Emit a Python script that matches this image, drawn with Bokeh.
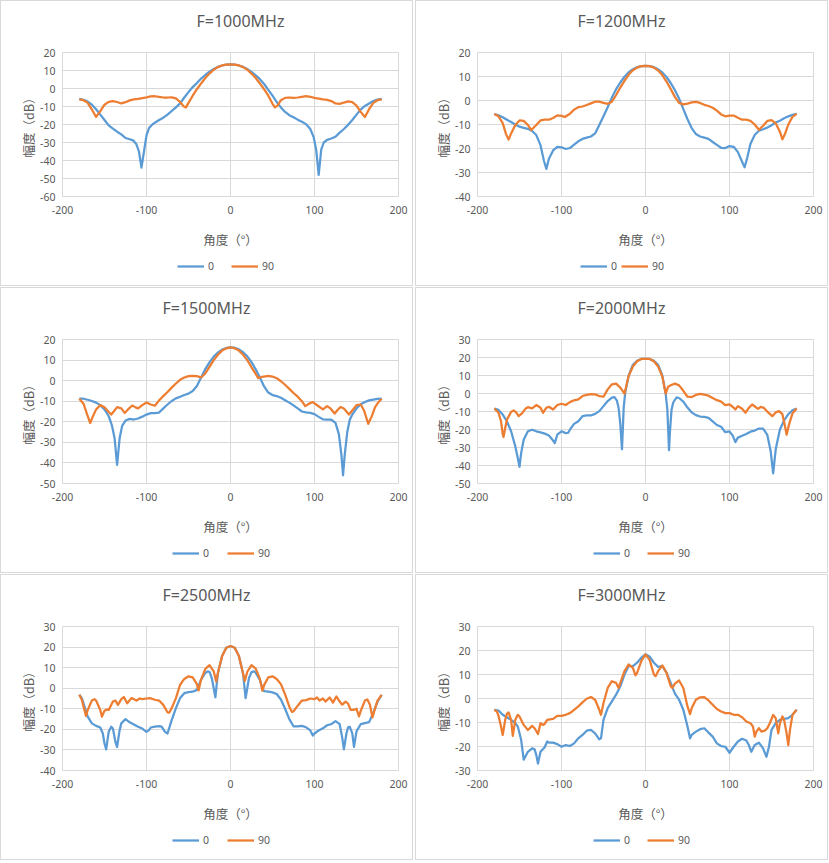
from bokeh.plotting import figure
from bokeh.models import Range1d, FixedTicker, Legend, LegendItem, Title, PrintfTickFormatter
from bokeh.layouts import row, column
from bokeh.embed import file_html
from bokeh.resources import INLINE

BLUE = "#5B9BD5"
ORANGE = "#ED7D31"
TXT = "#595959"
GRID = "#D9D9D9"

X_TICKS = [-200, -100, 0, 100, 200]
SERIES_NAMES = ["0", "90"]
TITLES = ["F=1000MHz", "F=1200MHz", "F=1500MHz", "F=2000MHz", "F=2500MHz", "F=3000MHz"]
Y_RANGES = [(-60, 20), (-40, 20), (-50, 20), (-50, 30), (-40, 30), (-30, 30)]
X_TITLE = "角度（°）"
Y_TITLE = "幅度（dB）"

# (angle, dB) pairs
s0_1000 = [(-180,-5.8),(-175,-6.3),(-170,-7.3),(-165,-9),(-160,-11.5),(-155,-14.5),(-150,-17.5),(-145,-20.5),(-140,-22.3),(-135,-24),(-130,-25.5),(-125,-27.5),(-120,-28.2),(-116,-28.8),(-112,-31),(-109,-35),(-106,-44),(-103,-35),(-100,-26),(-97,-22),(-93,-20),(-90,-19),(-85,-17.5),(-80,-16.2),(-75,-14.5),(-70,-12.5),(-65,-10.5),(-60,-8.3),(-55,-5),(-50,-2),(-45,0.8),(-40,3),(-35,5.5),(-30,7.5),(-25,9.3),(-20,10.8),(-15,12),(-10,12.8),(-5,13.3),(0,13.4),(5,13.3),(10,12.8),(15,12),(20,10.8),(25,9.2),(30,7.3),(35,5.2),(40,2.5),(45,-0.8),(50,-4),(55,-7.5),(60,-10.5),(65,-13),(70,-14.8),(75,-16),(80,-17.3),(85,-18.5),(90,-19.8),(95,-22.5),(99,-27),(102,-34),(105,-48),(108,-34),(111,-30),(115,-28.5),(120,-27.8),(125,-26.8),(130,-24.5),(135,-22.5),(140,-20.2),(145,-17.5),(150,-14.5),(155,-11.7),(160,-9.7),(165,-8.3),(170,-7),(175,-6.2),(180,-5.8)]
s90_1000 = [(-180,-6),(-175,-6.5),(-170,-8),(-165,-11.7),(-160,-15.8),(-155,-12.6),(-150,-9),(-145,-7.4),(-140,-7),(-135,-7.5),(-130,-8.3),(-125,-7.6),(-120,-6.6),(-115,-6),(-110,-5.8),(-105,-5.3),(-100,-4.9),(-95,-4.4),(-90,-4.3),(-85,-4.7),(-80,-5),(-75,-5),(-70,-4.9),(-65,-5.5),(-60,-7.5),(-56,-9.8),(-53,-10.5),(-50,-8),(-45,-4),(-40,-0.4),(-35,2.8),(-30,5.8),(-25,8.3),(-20,10.4),(-15,11.9),(-10,12.8),(-5,13.3),(0,13.4),(5,13.3),(10,12.8),(15,11.9),(20,10.4),(25,8.3),(30,5.8),(35,2.8),(40,-0.4),(45,-4),(50,-8.5),(53,-10.5),(56,-9.5),(60,-6.5),(65,-5.2),(70,-5),(75,-5.2),(80,-5),(85,-4.6),(90,-4.3),(95,-4.6),(100,-5.2),(105,-5.6),(110,-6),(115,-6.3),(120,-7),(125,-8.3),(130,-8.5),(135,-7.8),(140,-7.2),(145,-7.6),(150,-9.5),(155,-13),(160,-15.8),(165,-11.5),(170,-8),(175,-6.5),(180,-6)]

s0_1200 = [(-180,-5.6),(-175,-6.2),(-170,-7),(-165,-8),(-160,-9),(-155,-10),(-150,-10.9),(-145,-11.4),(-140,-11.8),(-135,-12.7),(-130,-14.4),(-125,-18.6),(-121,-25),(-118,-28.5),(-115,-24.3),(-110,-20.8),(-105,-19.3),(-100,-19.5),(-95,-20.2),(-90,-19.8),(-85,-18.4),(-80,-17),(-75,-16),(-70,-15.5),(-65,-15),(-60,-13.7),(-55,-10.2),(-50,-6.6),(-45,-2.8),(-40,1.2),(-35,4.7),(-30,7.5),(-25,9.9),(-20,11.8),(-15,13),(-10,13.9),(-5,14.3),(0,14.4),(5,14.3),(10,13.9),(15,13),(20,11.7),(25,9.8),(30,7.3),(35,4.3),(40,0.8),(45,-3.5),(50,-7.8),(55,-11.5),(60,-14),(65,-15),(70,-15.5),(75,-16),(80,-17.3),(85,-18.5),(90,-19.7),(95,-19.8),(100,-19),(105,-19.3),(110,-21.5),(115,-25.5),(118,-27.8),(121,-24),(125,-18),(130,-14.4),(135,-12.6),(140,-12),(145,-11.3),(150,-10.3),(155,-9.2),(160,-8.4),(165,-7.4),(170,-6.6),(175,-6),(180,-5.6)]
s90_1200 = [(-180,-5.6),(-175,-6.6),(-170,-9.4),(-166,-14),(-163,-16.3),(-160,-13.7),(-155,-10.2),(-150,-8.3),(-145,-8.5),(-140,-10.2),(-136,-12.3),(-130,-10.2),(-125,-8.3),(-120,-8),(-115,-8),(-110,-7.3),(-105,-6.2),(-100,-6.4),(-96,-6.9),(-90,-5.5),(-85,-3.8),(-80,-2.8),(-75,-2.5),(-70,-1.9),(-65,-1.2),(-60,-0.5),(-55,-0.5),(-50,-1),(-45,-1.4),(-40,-0.5),(-35,2.3),(-30,5.4),(-25,8.2),(-20,10.8),(-15,12.6),(-10,13.7),(-5,14.3),(0,14.4),(5,14.3),(10,13.7),(15,12.5),(20,10.6),(25,7.9),(30,4.8),(35,1.5),(40,-1),(45,-1.6),(50,-1.3),(55,-0.8),(60,-0.6),(65,-1),(70,-1.8),(75,-2.3),(80,-3),(85,-4.2),(90,-5.8),(95,-6.6),(100,-6.3),(105,-6.3),(110,-7.2),(115,-8),(120,-8),(125,-8.5),(130,-10),(135,-12.2),(140,-10.5),(145,-8.5),(150,-8.2),(155,-9.5),(160,-13),(163,-16.2),(166,-14),(170,-10),(175,-6.8),(180,-5.6)]

s0_1500 = [(-180,-8.8),(-175,-8.8),(-170,-9.3),(-165,-9.9),(-160,-10.7),(-155,-11.9),(-150,-14),(-145,-17.3),(-141,-22),(-138,-28),(-135,-41),(-132,-28),(-129,-22),(-125,-19.4),(-120,-18.6),(-115,-18.9),(-110,-18.4),(-105,-17.5),(-100,-16.5),(-95,-15.8),(-90,-15.8),(-85,-15.5),(-80,-13.5),(-75,-11.6),(-70,-9.9),(-65,-8.6),(-60,-7.8),(-55,-7),(-50,-6.3),(-45,-5),(-40,-2.6),(-35,1.5),(-30,5.6),(-25,8.9),(-20,11.7),(-15,13.6),(-10,15.1),(-5,15.9),(0,16.2),(5,16),(10,15.2),(15,13.8),(20,11.8),(25,9),(30,5.5),(35,1.5),(40,-2.8),(45,-5.8),(50,-7),(55,-7.5),(60,-8.3),(65,-9.5),(70,-10.7),(75,-12),(80,-13.5),(85,-15),(90,-15.4),(95,-15.7),(100,-16.3),(105,-17.6),(110,-18.8),(115,-19),(120,-19),(125,-20.5),(129,-26),(132,-36),(134,-46),(136,-36),(139,-25),(142,-19),(145,-16.5),(150,-13.5),(155,-11.5),(160,-10.4),(165,-9.6),(170,-9.2),(175,-8.9),(180,-8.8)]
s90_1500 = [(-180,-8.8),(-175,-11.2),(-171,-16),(-167,-20.6),(-164,-17.5),(-160,-14),(-155,-11.9),(-150,-12.9),(-145,-15.2),(-142,-16.5),(-139,-15),(-135,-12.9),(-130,-13.5),(-126,-15.7),(-122,-14),(-117,-12.1),(-113,-13),(-110,-13.5),(-105,-11.9),(-100,-10.6),(-95,-11.6),(-90,-12.2),(-85,-9.6),(-80,-7.5),(-75,-5.5),(-70,-3.4),(-65,-1.4),(-60,0.4),(-55,1.5),(-50,2.2),(-45,2.3),(-40,2.2),(-35,1.5),(-30,3.5),(-25,6.7),(-20,10),(-15,12.6),(-10,14.6),(-5,15.7),(0,16.2),(5,15.7),(10,14.6),(15,12.6),(20,10),(25,6.5),(30,3.3),(33,1.2),(37,1.8),(40,2),(45,2.3),(50,2),(55,1.2),(60,-0.3),(65,-2),(70,-4),(75,-6),(80,-7.8),(85,-10),(89,-12.4),(93,-11.3),(98,-10.4),(104,-12.2),(110,-14),(115,-12.4),(119,-13.5),(124,-16),(128,-14),(131,-12.8),(135,-13.5),(141,-16.5),(145,-14.5),(150,-11.9),(155,-11.6),(159,-14.5),(164,-21),(168,-17.5),(172,-13),(176,-10.5),(180,-8.8)]

s0_2000 = [(-180,-8.3),(-175,-9.1),(-170,-11.7),(-165,-15.4),(-160,-21),(-155,-29.4),(-152,-36),(-150,-40.7),(-148,-33),(-145,-25.7),(-140,-21),(-135,-20.1),(-130,-21),(-125,-21.6),(-120,-22.3),(-115,-23.3),(-111,-25.5),(-108,-27.6),(-105,-22.9),(-100,-21),(-95,-22),(-92,-21.8),(-90,-20.1),(-85,-16.9),(-80,-15.4),(-75,-12.6),(-70,-12.2),(-65,-12.2),(-60,-11.3),(-55,-9.8),(-50,-7),(-45,-4.2),(-40,-2.3),(-37,-2),(-34,-4),(-32,-8),(-30,-17),(-28,-31),(-27,-20),(-26,-8),(-24,1),(-22,5.5),(-20,10),(-15,16),(-10,18.2),(-5,19.2),(0,19.3),(5,19.2),(10,18.2),(15,16),(20,10),(22,5),(24,0),(26,-9),(27,-20),(28,-31.5),(29,-22),(31,-9),(33,-5),(37,-2.2),(40,-2.5),(45,-4.5),(50,-7.8),(55,-10.5),(60,-12),(65,-12.8),(70,-13),(75,-13.5),(80,-15.5),(85,-17.5),(90,-18.5),(95,-21.5),(100,-21),(104,-23.5),(107,-27),(110,-24.5),(115,-23.5),(120,-22.5),(125,-21.2),(130,-20.6),(135,-19.5),(140,-19.5),(145,-23),(149,-32),(152,-44.4),(155,-31),(160,-20),(165,-15),(170,-11.5),(175,-9.3),(180,-8.3)]
s90_2000 = [(-180,-8.3),(-175,-10.7),(-172,-15.4),(-170,-22.5),(-169,-24.2),(-167,-19.2),(-165,-14.5),(-160,-10.2),(-157,-9.4),(-154,-10.5),(-151,-12.6),(-147,-11),(-143,-8.5),(-140,-7.6),(-135,-8.3),(-130,-6.4),(-125,-7.9),(-122,-10.7),(-118,-7.9),(-115,-7.4),(-110,-8.9),(-105,-6.4),(-100,-5.7),(-95,-6.4),(-90,-4.8),(-85,-3.8),(-80,-3.3),(-75,-1.4),(-70,-0.8),(-65,-0.3),(-60,-0.5),(-55,-1.4),(-50,-1.8),(-45,2.3),(-40,5.1),(-35,5.5),(-30,3.3),(-25,-0.1),(-20,9.8),(-15,15),(-10,17.9),(-5,19.2),(0,19.3),(5,19.2),(10,17.9),(15,15),(20,9.5),(24,0),(27,3.8),(30,4.6),(35,5.5),(40,4.5),(45,1.5),(50,-1.8),(55,-2),(60,-0.8),(65,-0.2),(70,-0.6),(75,-1.2),(80,-2.5),(85,-3.7),(90,-4.5),(95,-6.5),(100,-6),(104,-7.5),(107,-8.9),(110,-7),(115,-8.5),(119,-10.7),(123,-8),(127,-6.1),(131,-7.5),(134,-8.5),(137,-7.4),(141,-8),(146,-10.5),(151,-12.6),(155,-10.5),(159,-9.8),(163,-11.5),(166,-18),(168,-22.9),(171,-17),(175,-11),(180,-8.3)]

s0_2500 = [(-180,-3.2),(-177,-4.8),(-175,-7.3),(-170,-13.8),(-165,-17.1),(-160,-18.3),(-155,-19.1),(-152,-22),(-150,-26.9),(-148,-29.7),(-145,-21.2),(-142,-18.7),(-140,-19.6),(-137,-26.1),(-135,-28.6),(-132,-20.4),(-130,-17.1),(-125,-15),(-120,-16.6),(-115,-17.6),(-110,-18.7),(-105,-19.6),(-100,-21.2),(-97,-20.4),(-95,-19.1),(-90,-18.7),(-85,-18.4),(-82,-18.7),(-78,-21.2),(-75,-22),(-70,-15.5),(-65,-9.7),(-60,-4.8),(-55,-2.4),(-50,-1.9),(-45,-1.7),(-40,-0.8),(-35,4.2),(-30,7.4),(-27,8.2),(-25,7.9),(-22,4.5),(-20,0),(-18,-4.4),(-15,7.4),(-10,15.6),(-5,19.7),(0,20.5),(5,19.7),(10,15.6),(15,7),(18,-4.8),(20,0),(22,5),(25,7.8),(28,8.2),(30,7.6),(35,4),(38,0),(40,-1.4),(45,-1.7),(50,-2),(55,-2.8),(60,-5.5),(65,-10),(70,-15),(75,-18.5),(80,-18.5),(85,-18.3),(90,-19),(95,-20.5),(98,-23),(100,-22),(105,-20.5),(110,-19.5),(115,-18),(120,-17.5),(125,-16),(130,-17.5),(133,-24),(135,-29.7),(138,-22),(140,-19),(142,-18.8),(145,-22),(147,-28.5),(150,-21),(155,-17.5),(160,-17),(165,-16.5),(170,-12),(175,-6.5),(180,-3.2)]
s90_2500 = [(-180,-3.2),(-177,-5.6),(-175,-8.9),(-172,-13.5),(-170,-10.6),(-165,-6),(-162,-5.3),(-160,-6),(-155,-10.6),(-153,-13.8),(-150,-10.9),(-147,-10.3),(-145,-10.6),(-140,-6.5),(-137,-6),(-134,-8.1),(-130,-5.3),(-127,-4.3),(-123,-7.3),(-118,-4.8),(-115,-5.3),(-112,-6),(-108,-5),(-105,-5.3),(-100,-5),(-96,-4.8),(-90,-5.6),(-85,-6),(-80,-8.1),(-75,-11.7),(-73,-11.9),(-70,-9.7),(-65,-4.8),(-60,1.7),(-55,4.5),(-50,5.8),(-45,5.3),(-40,2),(-38,-1.1),(-35,4.2),(-30,9.4),(-25,11.2),(-20,8.2),(-17,3.3),(-15,7.4),(-10,15.6),(-5,19.7),(0,20.5),(5,19.7),(10,15.6),(15,7),(17,3.5),(20,8),(25,11.2),(30,9.5),(35,4.5),(38,-1.2),(40,1.5),(45,5.3),(50,5.8),(55,4.5),(60,2),(65,-3),(70,-9),(73,-11.5),(75,-11.3),(80,-8.5),(85,-6),(90,-5.8),(95,-5),(100,-5.3),(103,-4.5),(106,-6),(110,-5),(113,-6.5),(118,-4.5),(122,-7),(126,-4),(130,-6.5),(133,-8),(137,-6.5),(140,-7.5),(143,-10.5),(147,-10.5),(150,-10),(153,-13.7),(155,-11),(160,-6),(163,-5.5),(166,-8),(169,-14.2),(172,-10),(175,-6),(180,-3.2)]

s0_3000 = [(-180,-4.7),(-175,-5),(-170,-6.8),(-165,-7.8),(-160,-8.9),(-155,-10.3),(-152,-11.7),(-148,-17.3),(-145,-25.5),(-140,-22.2),(-135,-20.8),(-132,-21.2),(-130,-23.6),(-128,-27.1),(-125,-22.2),(-120,-20.3),(-117,-17.9),(-115,-18.4),(-110,-18.4),(-105,-19),(-100,-20.1),(-95,-19.4),(-90,-19.8),(-85,-18.7),(-80,-16.6),(-75,-15.2),(-70,-13.4),(-65,-13.1),(-60,-14.5),(-55,-17),(-53,-16.6),(-50,-8.9),(-45,-4),(-40,-1.2),(-35,1.6),(-30,5.1),(-25,10),(-20,13.5),(-15,13.5),(-10,14.9),(-5,17),(0,18.4),(5,17.4),(10,14.9),(15,13.2),(20,13.5),(25,10.8),(30,6.5),(35,2),(40,-0.5),(45,-4.7),(50,-11.7),(53,-16.6),(55,-15.2),(60,-13.8),(65,-12.8),(70,-12.4),(75,-14.2),(80,-15.9),(85,-18.7),(90,-19.8),(95,-20.1),(100,-22.6),(105,-20.1),(110,-17.9),(115,-16.8),(120,-17.5),(123,-19.4),(126,-22.2),(130,-19.4),(135,-18.4),(140,-20.8),(144,-24.3),(147,-20.1),(150,-13.1),(155,-10.3),(160,-8.9),(165,-8.5),(170,-8.2),(175,-6.8),(180,-4.7)]
s90_3000 = [(-180,-4.7),(-177,-5.4),(-175,-7.2),(-172,-11.7),(-170,-15.2),(-167,-8.9),(-165,-6.4),(-163,-5.8),(-160,-8.9),(-158,-15.6),(-155,-8.9),(-152,-6.8),(-150,-7.5),(-145,-11),(-140,-13.1),(-135,-11.4),(-132,-12.4),(-128,-14.8),(-125,-10.3),(-122,-11),(-120,-10.6),(-117,-8.9),(-110,-8.5),(-105,-7.2),(-100,-7.2),(-95,-6.8),(-90,-6.1),(-85,-4.7),(-80,-3.3),(-75,-1.6),(-70,-0.1),(-65,0.6),(-60,-0.5),(-55,-4.7),(-53,-6.8),(-50,-1.9),(-45,4.4),(-40,7.2),(-35,6.5),(-32,4.4),(-30,6.5),(-25,11.4),(-20,14.2),(-15,12.8),(-12,9.6),(-10,10.7),(-5,15.6),(0,18.4),(5,16),(10,10),(12,9.3),(15,11.4),(20,13.8),(25,10.7),(30,5.1),(32,4.4),(35,6.2),(40,7.5),(45,4.4),(50,-3.3),(53,-6.5),(55,-4),(60,-0.5),(65,0.5),(70,0.6),(75,-0.8),(80,-2.6),(85,-4.4),(90,-5.4),(95,-6.1),(100,-6.1),(105,-6.8),(110,-6.8),(115,-7.8),(120,-9.6),(125,-10.3),(128,-11.7),(130,-15.9),(132,-13.8),(135,-12.4),(138,-13.8),(142,-13.4),(145,-12.4),(148,-10.3),(152,-6.8),(155,-8.2),(158,-14.5),(160,-10.3),(163,-7.5),(165,-8.9),(168,-14.5),(170,-19.4),(172,-13.1),(175,-6.8),(180,-4.7)]

DATA = [(s0_1000, s90_1000), (s0_1200, s90_1200), (s0_1500, s90_1500),
        (s0_2000, s90_2000), (s0_2500, s90_2500), (s0_3000, s90_3000)]

# per-panel horizontal placement (pixels from the plot frame's left edge)
TITLE_OFF = [134, 100, 100, 100, 100, 100]
LEGEND_X = [115, 103, 110, 116, 110, 116]
LEGEND_SP = [17, 4, 18, 17, 18, 17]

W = 413
HM, HL = 254, 32
FL, FR, FT, FB = 61, 16, 51, 59

def make_panel(i):
    s0, s90 = DATA[i]
    x0, y0 = [a for a, _ in s0], [v for _, v in s0]
    x90, y90 = [a for a, _ in s90], [v for _, v in s90]
    ymin, ymax = Y_RANGES[i]
    p = figure(width=W, height=HM, output_backend="svg", toolbar_location=None,
               x_range=Range1d(-200, 200), y_range=Range1d(ymin, ymax),
               min_border_left=FL, min_border_right=FR, min_border_top=FT, min_border_bottom=FB,
               background_fill_color="white", border_fill_color="white", title=None)
    p.styles = {"border-top": "1px solid #D9D9D9", "border-left": "1px solid #D9D9D9",
                "border-right": "1px solid #D9D9D9"}
    p.outline_line_color = GRID
    p.xaxis.ticker = FixedTicker(ticks=X_TICKS)
    p.yaxis.ticker = FixedTicker(ticks=list(range(ymin, ymax + 1, 10)))
    for ax in (p.xaxis[0], p.yaxis[0]):
        ax.formatter = PrintfTickFormatter(format="%d")
        ax.axis_line_color = None
        ax.major_tick_line_color = None
        ax.minor_tick_line_color = None
        ax.major_tick_out = 0
        ax.major_tick_in = 0
        ax.major_label_text_color = TXT
        ax.major_label_text_font = "Noto Sans"
        ax.major_label_text_font_size = "10.5px"
        ax.axis_label_text_font = "Noto Sans CJK SC"
        ax.axis_label_text_font_size = "12.5px"
        ax.axis_label_text_font_style = "normal"
        ax.axis_label_text_color = TXT
    p.xaxis.major_label_standoff = 9
    p.yaxis.major_label_standoff = 7
    p.xaxis.axis_label = X_TITLE
    p.xaxis.axis_label_standoff = 13
    p.yaxis.axis_label = Y_TITLE
    p.yaxis.axis_label_standoff = -1
    p.xgrid.grid_line_color = GRID
    p.ygrid.grid_line_color = GRID

    p.line(x0, y0, line_color=BLUE, line_width=2.25, line_join="round")
    p.line(x90, y90, line_color=ORANGE, line_width=2.25, line_join="round")

    # spacer nearest the frame, then the chart title
    p.add_layout(Title(text=" ", text_font_size="1px", standoff=18), "above")
    p.add_layout(Title(text=TITLES[i], align="left", offset=TITLE_OFF[i], standoff=0,
                       vertical_align="bottom", text_color=TXT, text_font="Noto Sans",
                       text_font_size="16px", text_font_style="normal"), "above")

    # legend strip under the chart: same series, drawn out of its view, so only the legend shows
    lf = figure(width=W, height=HL, output_backend="svg", toolbar_location=None,
                x_axis_type=None, y_axis_type=None,
                x_range=Range1d(1000, 1001), y_range=Range1d(1000, 1001),
                min_border=0, title=None, background_fill_color="white", border_fill_color="white")
    lf.styles = {"border-bottom": "1px solid #D9D9D9", "border-left": "1px solid #D9D9D9",
                 "border-right": "1px solid #D9D9D9"}
    lf.outline_line_color = None
    k0 = lf.line(x0, y0, line_color=BLUE, line_width=2.25)
    k90 = lf.line(x90, y90, line_color=ORANGE, line_width=2.25)
    legend = Legend(items=[LegendItem(label=SERIES_NAMES[0], renderers=[k0]),
                           LegendItem(label=SERIES_NAMES[1], renderers=[k90])],
                    location=(LEGEND_X[i], 13), orientation="horizontal",
                    glyph_width=27, glyph_height=12, label_height=12, label_width=1,
                    label_standoff=4, spacing=LEGEND_SP[i], padding=0, margin=0,
                    border_line_alpha=0, background_fill_alpha=0,
                    label_text_font="Noto Sans", label_text_font_size="10.5px",
                    label_text_color=TXT)
    lf.add_layout(legend)
    return column(p, lf, spacing=0)

ps = [make_panel(i) for i in range(6)]
layout = column(row(ps[0], ps[1], spacing=2), row(ps[2], ps[3], spacing=2),
                row(ps[4], ps[5], spacing=2), spacing=1)

open("out.html", "w").write(file_html(layout, INLINE))
